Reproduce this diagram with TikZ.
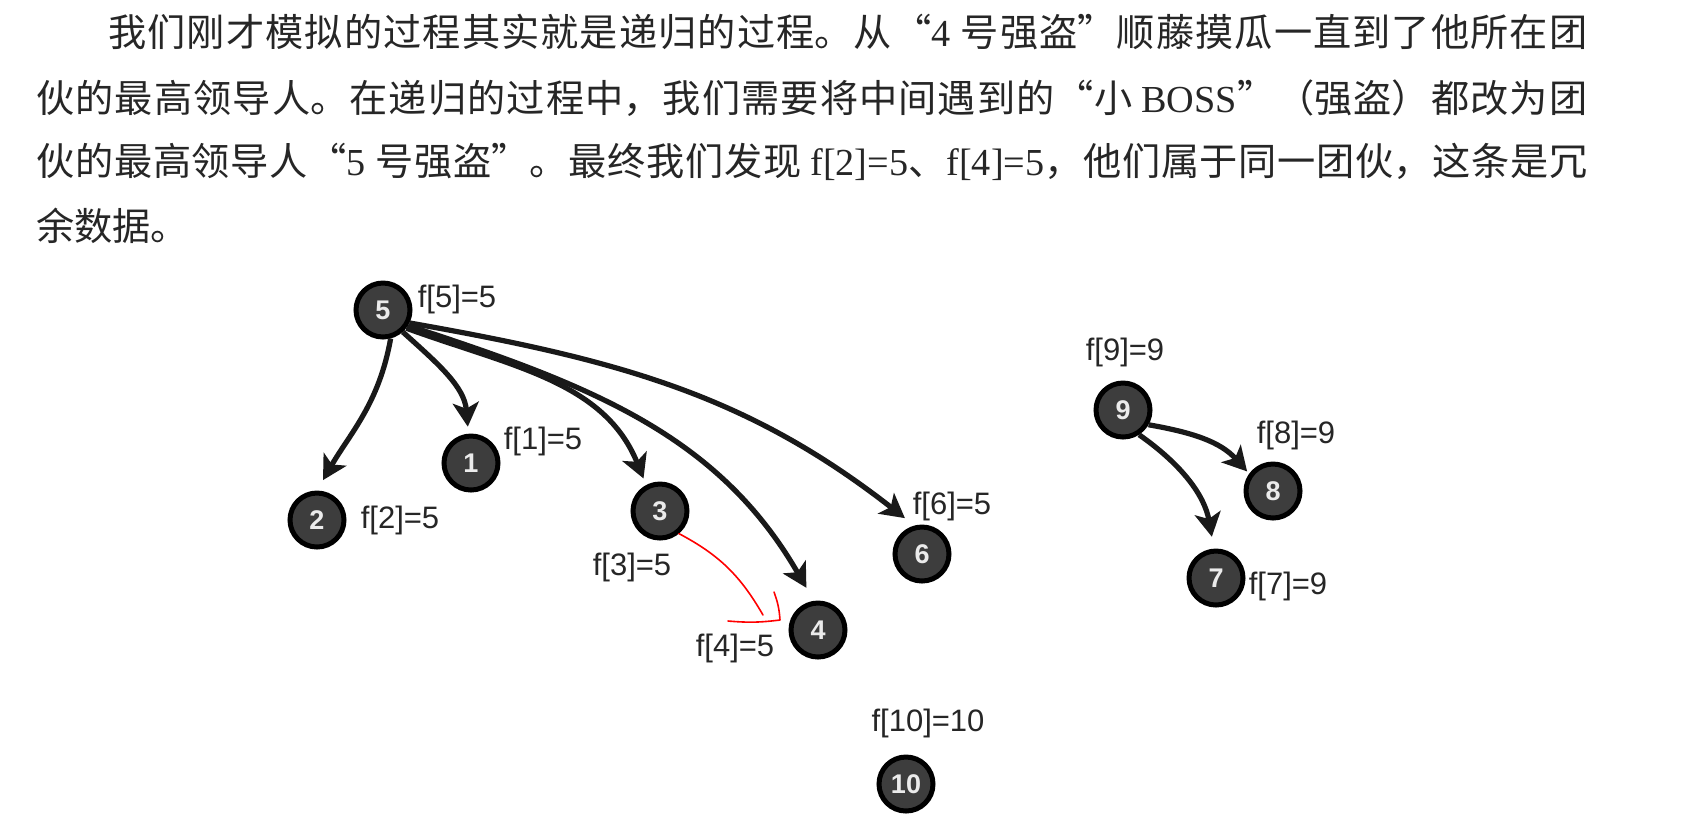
\documentclass[tikz,border=0pt]{standalone}
\usepackage{fontspec}
\setmainfont{Liberation Serif}
\newfontfamily\cjk{Noto Sans CJK SC}
\newfontfamily\labelfont{Liberation Sans}
\XeTeXlinebreaklocale "zh"
\XeTeXlinebreakskip=0pt plus 4pt
\usetikzlibrary{arrows.meta}
\setlength{\parindent}{0pt}
\newcommand\ltn[1]{{\rmfamily #1}}

\tikzset{
	txtline/.style={anchor=base west, inner sep=0pt, text=black!85,
		font=\cjk\fontsize{19.1}{24}\selectfont},
	fullline/.style={txtline, align=justify},
	thief/.style={circle, draw=black, line width=2.5pt, fill=black!76,
		minimum size=27pt, inner sep=0pt, text=white!92!black,
		font=\labelfont\bfseries\fontsize{13.5}{13.5}\selectfont},
	flabel/.style={inner sep=0pt, text=black!85,
		font=\labelfont\fontsize{15.5}{16}\selectfont},
	link/.style={-{Stealth[length=12pt,width=13pt,inset=3pt]},
		line width=2.6pt, draw=black!90, shorten >=3.5pt},
	redpen/.style={draw=red, line width=0.8pt, line cap=round, line join=round}
}

\begin{document}
\begin{tikzpicture}[x=0.5pt,y=0.5pt]
	\path[fill=white, use as bounding box] (0,0) rectangle (1687,-827);

	% text
	\node[fullline, text width=739.5pt] (line1) at (108,-46)
		{\global\parfillskip=0pt 我们刚才模拟的过程其实就是递归的过程。从“\ltn{4 }号强盗”顺藤摸瓜一直到了他所在团};
	\node[fullline, text width=775.5pt] (line2) at (36,-112)
		{\global\parfillskip=0pt 伙的最高领导人。在递归的过程中，我们需要将中间遇到的“小 \ltn{BOSS}”（强盗）都改为团};
	\node[fullline, text width=775.5pt] (line3) at (36,-175)
		{\global\parfillskip=0pt 伙的最高领导人“\ltn{5 }号强盗”。最终我们发现 \ltn{f[2]=5}、\ltn{f[4]=5}，他们属于同一团伙，这条是冗};
	\node[txtline] (line4) at (36,-240) {余数据。};

	% thieves
	\node[thief] (n5) at (383,-310) {5};
	\node[thief] (n1) at (471,-463) {1};
	\node[thief] (n2) at (317,-520) {2};
	\node[thief] (n3) at (660,-511) {3};
	\node[thief] (n4) at (818,-630) {4};
	\node[thief] (n6) at (922,-554) {6};
	\node[thief] (n10) at (906,-784) {10};
	\node[thief] (n9) at (1123,-410) {9};
	\node[thief] (n8) at (1273,-491) {8};
	\node[thief] (n7) at (1216,-578) {7};

	% labels
	\node[flabel] (l5) at (457,-299) {f[5]=5};
	\node[flabel] (l1) at (543,-441) {f[1]=5};
	\node[flabel] (l2) at (400,-520) {f[2]=5};
	\node[flabel] (l3) at (632,-567) {f[3]=5};
	\node[flabel] (l4) at (735,-648) {f[4]=5};
	\node[flabel] (l6) at (952,-506) {f[6]=5};
	\node[flabel] (l10) at (928,-723) {f[10]=10};
	\node[flabel] (l9) at (1125,-352) {f[9]=9};
	\node[flabel] (l8) at (1296,-435) {f[8]=9};
	\node[flabel] (l7) at (1288,-586) {f[7]=9};

	% gang of 5
	\draw[link, shorten >=6pt] (n5.-75) to[out=-100, in=60] (n2.90);
	\draw[link] (n5.-48) to[out=-42, in=95] (n1);
	\draw[link] (n5.-38) to[out=-20, in=112] (n3.118);
	\draw[link, shorten >=7.5pt] (n5.-32) to[out=-18, in=120] (n4.98);
	\draw[link, shorten >=6pt] (n5.-26) to[out=-10, in=142] (n6.105);

	% gang of 9
	\draw[link, shorten >=1.5pt] (n9.-30) to[out=-10, in=132] (n8.144);
	\draw[link, shorten >=6pt] (n9.-57) to[out=-35, in=100] (n7.94);

	% red pen
	\coordinate (redend) at (763,-615);
	\coordinate (hookl) at (728,-621);
	\coordinate (hooktip) at (780,-620);
	\coordinate (hooku) at (774,-592);
	\draw[redpen] (n3.-50) to[out=-28, in=120] (redend);
	\draw[redpen] (hookl) to[bend right=6] (hooktip) to[bend right=8] (hooku);
\end{tikzpicture}
\end{document}
